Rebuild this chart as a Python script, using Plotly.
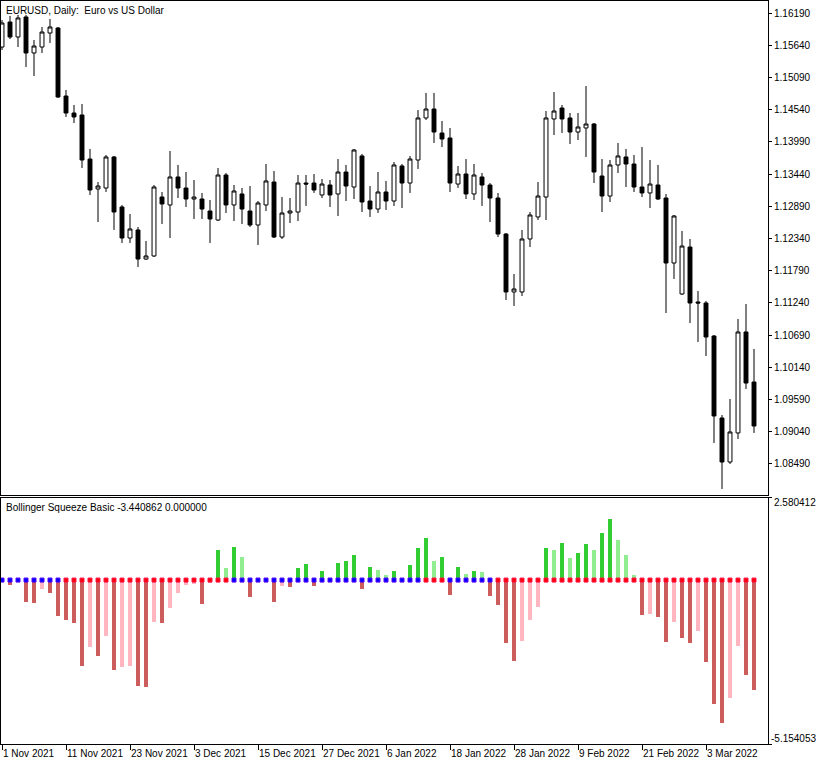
import plotly.graph_objects as go
import pandas as pd

# ---------------- data ----------------
dates = pd.bdate_range("2021-11-01", periods=95)

open_ = [1.15609, 1.16036, 1.15780, 1.16122, 1.15507, 1.15609, 1.15848, 1.15934, 1.14772, 1.14482,
         1.14448, 1.13696, 1.13184, 1.13201, 1.13731, 1.12877, 1.12347, 1.12484, 1.11988, 1.12040,
         1.13047, 1.12911, 1.13389, 1.13201, 1.13013, 1.13013, 1.12808, 1.12654, 1.13423, 1.12911,
         1.13099, 1.12808, 1.12569, 1.12911, 1.13303, 1.12364, 1.12774, 1.12791, 1.13286, 1.13286,
         1.13082, 1.13252, 1.13099, 1.13474, 1.13218, 1.13748, 1.12979, 1.12842, 1.13133, 1.12979,
         1.13577, 1.13286, 1.13679, 1.14397, 1.14550, 1.14140, 1.14055, 1.13269, 1.13440, 1.13099,
         1.13389, 1.13252, 1.13030, 1.12415, 1.11425, 1.11425, 1.12330, 1.12706, 1.13047, 1.14380,
         1.14567, 1.14397, 1.14157, 1.14226, 1.14294, 1.13406, 1.13064, 1.13594, 1.13731, 1.13611,
         1.13218, 1.13116, 1.13252, 1.13030, 1.11920, 1.11391, 1.12193, 1.11254, 1.11237, 1.10673,
         1.09273, 1.08521, 1.09017, 1.10742, 1.09887]
high = [1.16070, 1.16139, 1.16156, 1.16156, 1.15729, 1.15951, 1.16088, 1.15951, 1.14875, 1.14619,
        1.14636, 1.13867, 1.13303, 1.13765, 1.13748, 1.12911, 1.12757, 1.12535, 1.12296, 1.13252,
        1.13133, 1.13833, 1.13594, 1.13474, 1.13338, 1.13116, 1.12996, 1.13543, 1.13457, 1.13252,
        1.13201, 1.13235, 1.12979, 1.13611, 1.13491, 1.13047, 1.13030, 1.13423, 1.13423, 1.13440,
        1.13355, 1.13338, 1.13696, 1.13594, 1.13867, 1.13782, 1.13235, 1.13474, 1.13321, 1.13645,
        1.13611, 1.13748, 1.14533, 1.14824, 1.14824, 1.14345, 1.14226, 1.13577, 1.13696, 1.13611,
        1.13457, 1.13286, 1.13116, 1.12432, 1.11732, 1.12484, 1.12791, 1.13303, 1.14516, 1.14841,
        1.14619, 1.14482, 1.14482, 1.14943, 1.14311, 1.13696, 1.13679, 1.13970, 1.13867, 1.13765,
        1.13901, 1.13679, 1.13594, 1.13099, 1.12740, 1.12467, 1.12330, 1.11442, 1.11271, 1.10690,
        1.09324, 1.09597, 1.10964, 1.11220, 1.10451]
low = [1.15558, 1.15746, 1.15609, 1.15268, 1.15114, 1.15507, 1.15678, 1.14738, 1.14414, 1.14311,
       1.13543, 1.13082, 1.12620, 1.13133, 1.12484, 1.12262, 1.12262, 1.11852, 1.11971, 1.12023,
       1.12586, 1.12347, 1.13030, 1.12877, 1.12672, 1.12672, 1.12262, 1.12637, 1.12774, 1.12637,
       1.12586, 1.12535, 1.12228, 1.12808, 1.12347, 1.12330, 1.12603, 1.12637, 1.12894, 1.13116,
       1.13030, 1.12877, 1.12723, 1.12979, 1.13013, 1.12791, 1.12706, 1.12774, 1.12825, 1.12894,
       1.12859, 1.13116, 1.13526, 1.14362, 1.13970, 1.13901, 1.13133, 1.13201, 1.13013, 1.12996,
       1.12894, 1.12620, 1.12364, 1.11288, 1.11186, 1.11356, 1.12193, 1.12654, 1.12654, 1.14106,
       1.14140, 1.13953, 1.14021, 1.13731, 1.13286, 1.12791, 1.12962, 1.13457, 1.13218, 1.13133,
       1.13047, 1.12859, 1.12996, 1.11066, 1.11647, 1.11374, 1.10895, 1.10571, 1.10332, 1.08846,
       1.08060, 1.08487, 1.08914, 1.09768, 1.09017]
close = [1.16019, 1.15780, 1.16105, 1.15507, 1.15626, 1.15865, 1.15951, 1.14755, 1.14482, 1.14414,
         1.13679, 1.13167, 1.13235, 1.13731, 1.12791, 1.12347, 1.12501, 1.11988, 1.12040, 1.13218,
         1.12928, 1.13389, 1.13201, 1.13013, 1.13047, 1.12842, 1.12672, 1.13423, 1.12911, 1.13150,
         1.12842, 1.12569, 1.12945, 1.13321, 1.12364, 1.12774, 1.12808, 1.13286, 1.13269, 1.13167,
         1.13269, 1.13082, 1.13474, 1.13235, 1.13850, 1.12962, 1.12842, 1.13133, 1.12979, 1.13594,
         1.13286, 1.13696, 1.14397, 1.14550, 1.14157, 1.14038, 1.13286, 1.13440, 1.13099, 1.13423,
         1.13252, 1.13030, 1.12415, 1.11425, 1.11476, 1.12330, 1.12740, 1.13064, 1.14397, 1.14516,
         1.14380, 1.14157, 1.14243, 1.14294, 1.13474, 1.13064, 1.13594, 1.13748, 1.13611, 1.13218,
         1.13116, 1.13269, 1.13013, 1.11920, 1.12723, 1.12210, 1.11237, 1.11237, 1.10656, 1.09307,
         1.08521, 1.09034, 1.10742, 1.09870, 1.09136]

squeeze = [-0.05, -0.17, -0.03, -0.70, -0.73, -0.28, -0.41, -1.14, -1.27, -1.36,
           -2.71, -2.11, -2.40, -1.77, -2.82, -2.74, -2.71, -3.34, -3.37, -1.33,
           -1.36, -0.89, -0.41, -0.15, -0.12, -0.76, -0.09, 0.96, 0.39, 1.05,
           0.71, -0.54, -0.03, 0.02, -0.70, -0.19, -0.23, 0.39, 0.52, -0.19,
           0.30, 0.03, 0.55, 0.61, 0.80, -0.29, 0.42, 0.33, 0.17, 0.27,
           0.03, 0.46, 1.02, 1.31, 0.61, 0.71, -0.48, 0.42, 0.20, 0.27,
           0.24, -0.49, -0.77, -1.99, -2.55, -1.92, -1.24, -0.86, 1.00, 0.96,
           1.15, 0.68, 0.86, 1.12, 0.96, 1.49, 1.93, 1.27, 0.80, 0.17,
           -1.11, -1.08, -1.17, -1.96, -1.33, -1.83, -1.99, -1.61, -2.58, -3.91,
           -4.50, -3.72, -2.08, -2.99, -3.440862]
# 1 = squeeze on (blue dot), 0 = off (red dot)
squeeze_on = [1] * 8 + [0] * 21 + [1] * 24 + [0] * 3 + [1] * 6 + [0] * 33

price_ticks = [1.16190, 1.15640, 1.15090, 1.14540, 1.13990, 1.13440, 1.12890, 1.12340,
               1.11790, 1.11240, 1.10690, 1.10140, 1.09590, 1.09040, 1.08490]
osc_top, osc_bottom = 2.580412, -5.154053

# ---------------- derived ----------------
n = len(close)
xs = list(range(n))
tick_idx = list(range(0, n, 8))[:12]
tick_txt = [f"{dates[i].day} {dates[i]:%b %Y}" for i in tick_idx]

bar_colors = []
for i, v in enumerate(squeeze):
    prev = squeeze[i - 1] if i > 0 else 0
    if v >= 0:
        bar_colors.append("#32CD32" if v > prev else "#90EE90")
    else:
        bar_colors.append("#CD5C5C" if v < prev else "#FFB6C1")
dot_colors = ["#0000FF" if s else "#FF0000" for s in squeeze_on]
dot_edges = ["#5000FF" if s else "#FF1050" for s in squeeze_on]

FONT = "Liberation Sans, Arial, sans-serif"

fig = go.Figure()
fig.add_trace(go.Candlestick(
    x=xs, open=open_, high=high, low=low, close=close,
    increasing=dict(line=dict(color="black", width=1), fillcolor="white"),
    decreasing=dict(line=dict(color="black", width=1), fillcolor="black"),
    whiskerwidth=0, xaxis="x", yaxis="y", showlegend=False, hoverinfo="skip"))
fig.add_trace(go.Bar(
    x=xs, y=squeeze, marker=dict(color=bar_colors, line=dict(width=0)),
    width=0.5, xaxis="x2", yaxis="y2", showlegend=False, hoverinfo="skip"))
fig.add_trace(go.Scatter(
    x=xs, y=[0] * n, mode="markers",
    marker=dict(symbol="square", size=4, color=dot_colors,
                line=dict(color=dot_edges, width=1)),
    xaxis="x2", yaxis="y2", showlegend=False, hoverinfo="skip"))

axis_common = dict(showgrid=False, zeroline=False, showline=True, mirror=True,
                   linecolor="black", linewidth=1, automargin=False)

fig.update_layout(
    width=820, height=765,
    margin=dict(l=1, r=52, t=1, b=21, autoexpand=False),
    paper_bgcolor="white", plot_bgcolor="white",
    font=dict(family=FONT, size=10, color="black"),
    bargap=0,
    xaxis=dict(domain=[0, 1], anchor="y", range=[-0.125, 95.75],
               showticklabels=False, ticks="", rangeslider=dict(visible=False),
               **axis_common),
    xaxis2=dict(domain=[0, 1], anchor="y2", matches="x", range=[-0.125, 95.75],
                tickmode="array", tickvals=tick_idx, ticktext=tick_txt,
                ticks="outside", ticklen=5, tickcolor="black", tickwidth=1,
                tickangle=0, ticklabelposition="outside right",
                tickfont=dict(family=FONT, size=10, color="black"),
                **axis_common),
    yaxis=dict(domain=[0.3351, 1], anchor="x", side="right",
               range=[1.07957, 1.16395], tickmode="array", tickvals=price_ticks,
               ticktext=[f"{v:.5f}" for v in price_ticks],
               ticks="outside", ticklen=3, tickcolor="black",
               tickfont=dict(family=FONT, size=10, color="black"),
               **axis_common),
    yaxis2=dict(domain=[0, 0.3311], anchor="x2", side="right",
                range=[osc_bottom, osc_top], tickmode="array",
                tickvals=[osc_top, osc_bottom], showticklabels=False,
                ticks="outside", ticklen=3, tickcolor="black",
                **axis_common),
    annotations=[
        dict(text="EURUSD, Daily:  Euro vs US Dollar", xref="paper", yref="paper",
             x=0, y=1, xanchor="left", yanchor="top", xshift=3, yshift=-2,
             showarrow=False, font=dict(family=FONT, size=10, color="black")),
        dict(text=f"Bollinger Squeeze Basic {squeeze[-1]:.6f} 0.000000",
             xref="paper", yref="paper", x=0, y=0.3311, xanchor="left", yanchor="top",
             xshift=3, yshift=-2, showarrow=False,
             font=dict(family=FONT, size=10, color="black")),
        dict(text=f"{osc_top:.6f}", xref="paper", yref="y2", x=1, y=osc_top,
             xanchor="left", yanchor="middle", xshift=4, yshift=-5, showarrow=False,
             font=dict(family=FONT, size=10, color="black")),
        dict(text=f"{osc_bottom:.6f}", xref="paper", yref="y2", x=1, y=osc_bottom,
             xanchor="left", yanchor="middle", xshift=1, yshift=6, showarrow=False,
             font=dict(family=FONT, size=10, color="black")),
    ],
)

fig.write_html("out.html",
               config={"displayModeBar": False, "staticPlot": True},
               post_script="document.body.style.margin='0px';"
                           "document.body.style.overflow='hidden';")
